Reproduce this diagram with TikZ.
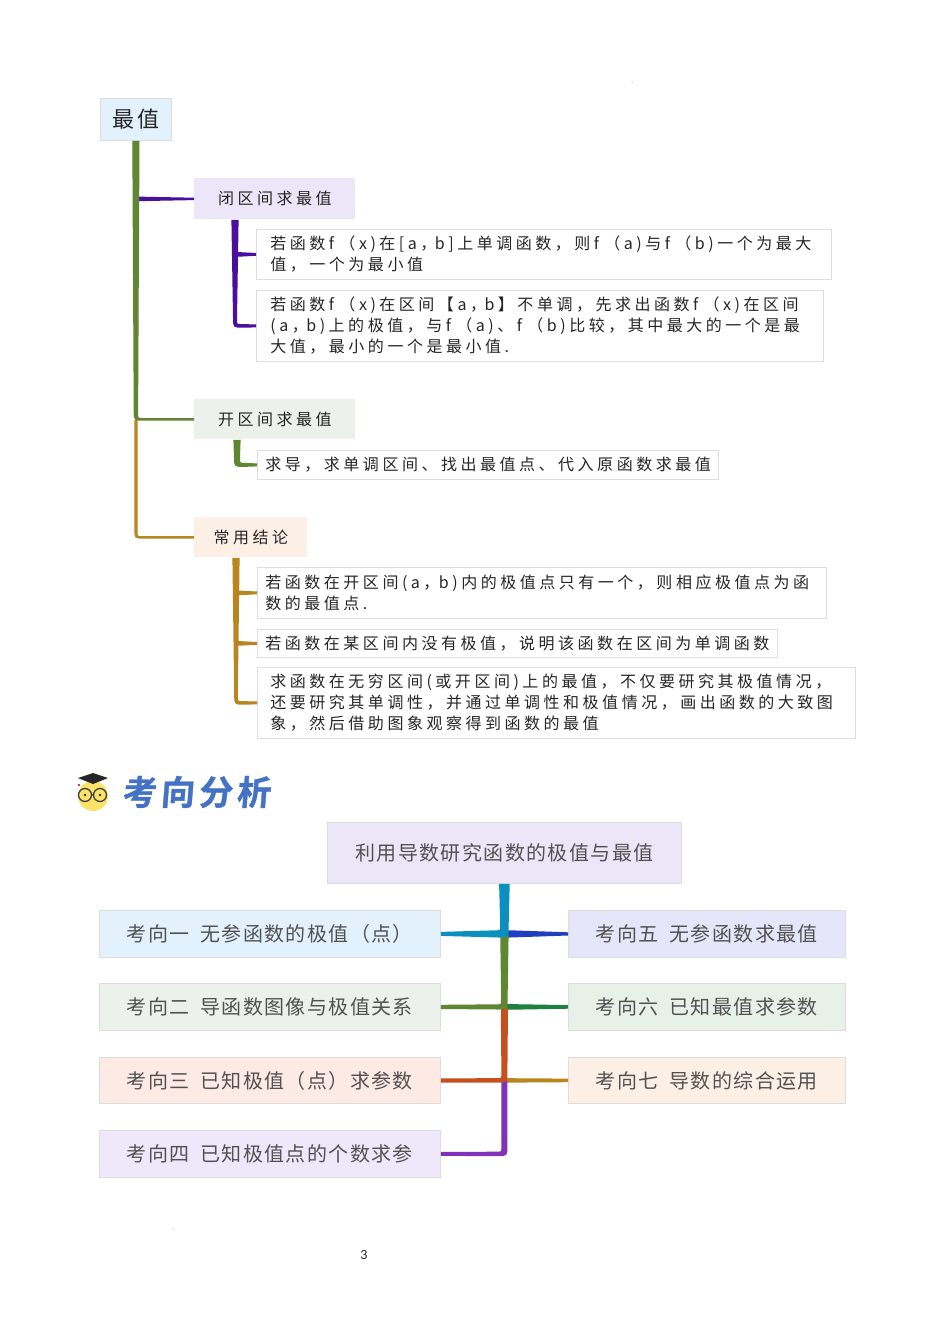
\documentclass[tikz,border=0pt]{standalone}
\usepackage{fontspec}
\usetikzlibrary{calc}
\setmainfont{Noto Sans CJK SC}
\newfontfamily\bodyf[LetterSpace=22]{Noto Sans CJK SC}
\newfontfamily\rootf[LetterSpace=14]{Noto Sans CJK SC}
\newfontfamily\lowf[LetterSpace=7]{Noto Sans CJK SC}
\newfontfamily\headf[LetterSpace=12,FakeSlant=0.08,FakeBold=1.2,BoldFont={Noto Sans CJK SC Bold}]{Noto Sans CJK SC}
\newfontfamily\pagef{Carlito}
\definecolor{cBlueL}{HTML}{E3F1FC}\definecolor{cPurL}{HTML}{EBE6F8}\definecolor{cGrnL}{HTML}{ECF1EB}
\definecolor{cOrL}{HTML}{FCF0E6}\definecolor{cPinkL}{HTML}{FDEAE5}\definecolor{cVioL}{HTML}{EFE7FA}
\definecolor{cIndL}{HTML}{E6E6FA}\definecolor{cGrn2L}{HTML}{E7F1E8}
\definecolor{cPur}{HTML}{4B0F9E}\definecolor{cGrn}{HTML}{5F8632}\definecolor{cGold}{HTML}{B8861F}
\definecolor{cCyan}{HTML}{0A8FBF}\definecolor{cNavy}{HTML}{1F3FC0}\definecolor{cGrn2}{HTML}{1E8040}
\definecolor{cRed}{HTML}{C4501F}\definecolor{cVio}{HTML}{8033B8}
\definecolor{cEdge}{HTML}{DDDDDD}\definecolor{cHead}{HTML}{4472C4}\definecolor{cFace}{HTML}{FBE36A}
\tikzset{
 bx/.style={draw=cEdge,line width=0.6pt,anchor=north west,inner ysep=0pt,inner xsep=0pt},
 topic/.style={bx,align=center,text=black!85,font=\fontsize{12}{15.75}\selectfont\bodyf},
 leaf/.style={bx,fill=white,align=left,text=black!85,font=\fontsize{12}{15.75}\selectfont\bodyf},
 low/.style={bx,align=left,text=black!68,font=\fontsize{15}{18}\selectfont\lowf},
}
% colour, start, target, half width at start, half width at corner, half width of arm at corner, half width at target
\newcommand\bran[7]{\fill[#1] let \p1=(#2),\p2=(#3),\n1={\x2>\x1?1:-1} in
 ({\x1-\n1*#4*0.75pt},\y1) -- ({\x1-\n1*#5*0.75pt},{\y2-#6*0.75pt+7.5pt})
 .. controls ({\x1-\n1*#5*0.75pt},{\y2-#6*0.75pt}) .. ({\x1-\n1*#5*0.75pt+\n1*7.5pt},{\y2-#6*0.75pt})
 -- ({\x2},{\y2-#7*0.75pt}) -- ({\x2},{\y2+#7*0.75pt}) -- ({\x1+\n1*#5*0.75pt+\n1*3.5pt},{\y2+#6*0.75pt})
 .. controls ({\x1+\n1*#5*0.75pt},{\y2+#6*0.75pt}) .. ({\x1+\n1*#5*0.75pt},{\y2+#6*0.75pt+3.5pt})
 -- ({\x1+\n1*#4*0.75pt},\y1) -- cycle;}
% colour, point on the trunk, target, half width at the trunk, half width at target
\newcommand\flare[5]{\fill[#1] let \p1=(#2),\p2=(#3),\n1={\x2>\x1?1:-1} in
 (\x1,{\y2+#4*0.75pt+4pt}) .. controls (\x1,{\y2+#4*0.75pt}) .. ({\x1+\n1*4.5pt},{\y2+#4*0.75pt})
 -- (\x2,{\y2+#5*0.75pt}) -- (\x2,{\y2-#5*0.75pt}) -- ({\x1+\n1*4.5pt},{\y2-#4*0.75pt})
 .. controls (\x1,{\y2-#4*0.75pt}) .. (\x1,{\y2-#4*0.75pt-3pt}) -- cycle;}
\newcommand\lin[1]{\mbox{#1}}
\newcommand\gp{\hspace{8pt}}
\begin{document}
\begin{tikzpicture}[x=0.75pt,y=-0.75pt]
\useasboundingbox (0,0) rectangle (950,1344);
\fill[white] (0,0) rectangle (950,1344);
% upper map
\node[bx,fill=cBlueL,minimum width=71*0.75pt,minimum height=42*0.75pt,text=black!85,font=\fontsize{16.5}{18}\selectfont\rootf] (root) at (100,98) {最值};
\node[topic,fill=cPurL,draw=none,minimum width=161*0.75pt,minimum height=41*0.75pt] (n1) at (194,178) {闭区间求最值};
\node[topic,fill=cGrnL,draw=none,minimum width=161*0.75pt,minimum height=40*0.75pt] (n2) at (194,399) {开区间求最值};
\node[topic,fill=cOrL,draw=none,minimum width=113*0.75pt,minimum height=40*0.75pt] (n3) at (194,517) {常用结论};
\node[leaf,text width=575*0.75pt,minimum height=50*0.75pt] (a1) at (256,229) {\hspace*{10.5pt}\lin{若函数f （x)在[a，\kern-1.1pt b]上单调函数，则f （a)与f （b)一个为最大}\\\hspace*{10.5pt}\lin{值，一个为最小值}};
\node[leaf,text width=567*0.75pt,minimum height=71*0.75pt] (a2) at (256,290) {\hspace*{10.5pt}\lin{若函数f （x)在区间【a，\kern-1.1pt b】不单调，先求出函数f （x)在区间}\\\hspace*{10.5pt}\lin{(a，\kern-1.1pt b)上的极值，与f （a)、f （b)比较，其中最大的一个是最}\\\hspace*{10.5pt}\lin{大值，最小的一个是最小值.}};
\node[leaf,text width=461*0.75pt,minimum height=29*0.75pt] (b1) at (257,450) {\hspace*{6pt}\lin{求导，求单调区间、找出最值点、代入原函数求最值}};
\node[leaf,text width=569*0.75pt,minimum height=51*0.75pt] (c1) at (257,567) {\hspace*{6pt}\lin{若函数在开区间(a，\kern-0.4pt b)内的极值点只有一个，则相应极值点为函}\\\hspace*{6pt}\lin{数的最值点.}};
\node[leaf,text width=520*0.75pt,minimum height=28*0.75pt] (c2) at (257,629) {\hspace*{6pt}\lin{若函数在某区间内没有极值，说明该函数在区间为单调函数}};
\node[leaf,text width=598*0.75pt,minimum height=71*0.75pt] (c3) at (257,667) {\hspace*{9.75pt}\lin{求函数在无穷区间(或开区间)上的最值，不仅要研究其极值情况，}\\\hspace*{9.75pt}\lin{还要研究其单调性，并通过单调性和极值情况，画出函数的大致图}\\\hspace*{9.75pt}\lin{象，然后借助图象观察得到函数的最值}};
% connectors of the upper map
\coordinate (cg) at ($(root.south)+(0,279)$);
\flare{cPur}{root.south}{n1.west}{2.2}{1.2}
\bran{cGold}{cg}{n3.west}{1.6}{1.6}{1.3}{1.2}
\bran{cGrn}{root.south}{n2.west}{3.6}{2.2}{1.3}{1.2}
\coordinate (p0) at ($(n1.south west)+(41,0)$);
\coordinate (q0) at ($(n2.south west)+(43,0)$);
\coordinate (r0) at ($(n3.south west)+(42,0)$);
\flare{cPur}{p0}{a1.west}{2.2}{1.4}
\bran{cPur}{p0}{a2.west}{3.6}{2}{1.8}{1.5}
\bran{cGrn}{q0}{b1.west}{3.6}{3}{2}{1.5}
\flare{cGold}{r0}{c1.west}{2.2}{1.4}
\flare{cGold}{r0}{c2.west}{2.2}{1.4}
\bran{cGold}{r0}{c3.west}{3.6}{1.8}{1.8}{1.4}
% heading
\fill[cFace] (93,796) circle (15);
\fill[black!85] (78,778) -- (93,773) -- (108,778) -- (93,784) -- cycle;
\draw[black!75,line width=1pt] (85,795) circle (6.5) (100,795) circle (6.5) (91.5,795) -- (93.5,795);
\fill[black!80] (85,795) circle (1.3) (100,795) circle (1.3);
\fill[red!70!black] (79,785) circle (1.2);
\node[anchor=west,text=cHead,inner sep=0pt,font=\fontsize{25.5}{28}\selectfont\headf\bfseries] (head) at (122,792) {考向分析};
% lower map
\node[low,fill=cPurL,align=center,minimum width=354*0.75pt,minimum height=61*0.75pt] (top) at (327,822) {利用导数研究函数的极值与最值};
\node[low,fill=cBlueL,minimum width=341*0.75pt,minimum height=47*0.75pt] (l1) at (99,910) {考向一\gp 无参函数的极值（点）};
\node[low,fill=cGrnL,minimum width=341*0.75pt,minimum height=47*0.75pt] (l2) at (99,983) {考向二\gp 导函数图像与极值关系};
\node[low,fill=cPinkL,minimum width=341*0.75pt,minimum height=46*0.75pt] (l3) at (99,1057) {考向三\gp 已知极值（点）求参数};
\node[low,fill=cVioL,minimum width=341*0.75pt,minimum height=47*0.75pt] (l4) at (99,1130) {考向四\gp 已知极值点的个数求参};
\node[low,fill=cIndL,minimum width=277*0.75pt,minimum height=47*0.75pt] (r1) at (568,910) {考向五\gp 无参函数求最值};
\node[low,fill=cGrn2L,minimum width=277*0.75pt,minimum height=47*0.75pt] (r2) at (568,983) {考向六\gp 已知最值求参数};
\node[low,fill=cOrL,minimum width=277*0.75pt,minimum height=46*0.75pt] (r3) at (568,1057) {考向七\gp 导数的综合运用};
% connectors of the lower map
\coordinate (j1) at (top.south |- l1.east);
\coordinate (j2) at (top.south |- l2.east);
\coordinate (j3) at (top.south |- l3.east);
\flare{cNavy}{j1}{r1.west}{3.6}{1.6}
\flare{cGrn2}{j2}{r2.west}{2.8}{1.8}
\flare{cGold}{j3}{r3.west}{2.2}{1.8}
\bran{cVio}{j3}{l4.east}{3}{3}{2.2}{2}
\bran{cRed}{j2}{l3.east}{3.6}{3}{2.2}{2.1}
\bran{cGrn}{j1}{l2.east}{4.2}{3.2}{2.6}{2.1}
\bran{cCyan}{top.south}{l1.east}{5.3}{4.2}{3.6}{2}
% page furniture
\node[inner sep=0pt,text=black!85,font=\fontsize{10.5}{11}\selectfont\pagef] (pg) at (364,1254.5) {3};
\fill[black!50] (632,82) circle (0.5) (173,1229) circle (0.5);
\end{tikzpicture}
\end{document}
